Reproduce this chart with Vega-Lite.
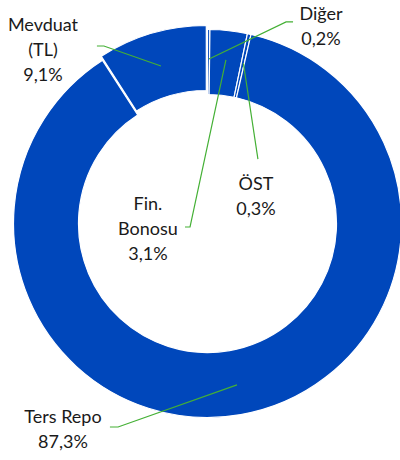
{
  "$schema": "https://vega.github.io/schema/vega-lite/v6.json",
  "width": 400,
  "height": 460,
  "autosize": "none",
  "padding": 0,
  "background": "white",
  "config": {"view": {"stroke": null}},
  "datasets": {
    "slices": [
      {"category": "Diğer", "value": 0.2, "order": 1},
      {"category": "Fin. Bonosu", "value": 3.1, "order": 2},
      {"category": "ÖST", "value": 0.3, "order": 3},
      {"category": "Ters Repo", "value": 87.3, "order": 4},
      {"category": "Mevduat (TL)", "value": 9.1, "order": 5}
    ],
    "labels": [
      {"text": "Mevduat\n(TL)\n9,1%", "lx": -0.848, "ly": 1.0155},
      {"text": "Diğer\n0,2%", "lx": 0.585, "ly": 1.0773},
      {"text": "ÖST\n0,3%", "lx": 0.25, "ly": 0.198},
      {"text": "Fin.\nBonosu\n3,1%", "lx": -0.307, "ly": 0.0928},
      {"text": "Ters Repo\n87,3%", "lx": -0.745, "ly": -1.005}
    ],
    "leaders": [
      {"id": "Mevduat", "seq": 1, "lx": -0.57, "ly": 0.915},
      {"id": "Mevduat", "seq": 2, "lx": -0.534, "ly": 0.915},
      {"id": "Mevduat", "seq": 3, "lx": -0.24, "ly": 0.812},
      {"id": "Diger", "seq": 1, "lx": 0.441, "ly": 1.039},
      {"id": "Diger", "seq": 2, "lx": 0.405, "ly": 1.039},
      {"id": "Diger", "seq": 3, "lx": 0.008, "ly": 0.848},
      {"id": "Fin", "seq": 1, "lx": -0.116, "ly": -0.018},
      {"id": "Fin", "seq": 2, "lx": -0.09, "ly": -0.018},
      {"id": "Fin", "seq": 3, "lx": 0.095, "ly": 0.843},
      {"id": "OST", "seq": 1, "lx": 0.185, "ly": 0.826},
      {"id": "OST", "seq": 2, "lx": 0.26, "ly": 0.332},
      {"id": "Repo", "seq": 1, "lx": -0.503, "ly": -1.049},
      {"id": "Repo", "seq": 2, "lx": -0.461, "ly": -1.049},
      {"id": "Repo", "seq": 3, "lx": 0.152, "ly": -0.832}
    ]
  },
  "layer": [
    {
      "data": {"name": "slices"},
      "transform": [
        {"stack": "value", "groupby": [], "sort": [{"field": "order"}], "as": ["t0", "t1"]},
        {"filter": "datum.category !== 'Mevduat (TL)'"}
      ],
      "mark": {"type": "arc", "outerRadius": 194, "innerRadius": 129, "fill": "#0047BB", "stroke": "white", "strokeWidth": 1.2},
      "encoding": {
        "x": {"datum": 0, "type": "quantitative", "scale": {"domain": [-1.0696, 0.9923], "nice": false, "zero": false}, "axis": null},
        "y": {"datum": 0, "type": "quantitative", "scale": {"domain": [-1.2191, 1.1521], "nice": false, "zero": false}, "axis": null},
        "theta": {"field": "t0", "type": "quantitative", "scale": {"domain": [0, 100]}},
        "theta2": {"field": "t1"}
      }
    },
    {
      "data": {"name": "slices"},
      "transform": [
        {"stack": "value", "groupby": [], "sort": [{"field": "order"}], "as": ["t0", "t1"]},
        {"filter": "datum.category === 'Mevduat (TL)'"}
      ],
      "mark": {"type": "arc", "outerRadius": 194, "innerRadius": 129, "fill": "#0047BB", "stroke": "white", "strokeWidth": 1.2, "xOffset": -1.2, "yOffset": -4},
      "encoding": {
        "x": {"datum": 0, "type": "quantitative", "scale": {"domain": [-1.0696, 0.9923], "nice": false, "zero": false}, "axis": null},
        "y": {"datum": 0, "type": "quantitative", "scale": {"domain": [-1.2191, 1.1521], "nice": false, "zero": false}, "axis": null},
        "theta": {"field": "t0", "type": "quantitative", "scale": {"domain": [0, 100]}},
        "theta2": {"field": "t1"}
      }
    },
    {
      "data": {"name": "leaders"},
      "mark": {"type": "line", "color": "#44B035", "strokeWidth": 1.2},
      "encoding": {
        "x": {"field": "lx", "type": "quantitative", "scale": {"domain": [-1.0696, 0.9923], "nice": false, "zero": false}, "axis": null},
        "y": {"field": "ly", "type": "quantitative", "scale": {"domain": [-1.2191, 1.1521], "nice": false, "zero": false}, "axis": null},
        "detail": {"field": "id"},
        "order": {"field": "seq"}
      }
    },
    {
      "data": {"name": "labels"},
      "mark": {"type": "text", "font": "Lato", "fontSize": 18, "lineHeight": 25, "lineBreak": "\n", "align": "center", "baseline": "middle", "color": "#1a1a1a"},
      "encoding": {
        "x": {"field": "lx", "type": "quantitative", "scale": {"domain": [-1.0696, 0.9923], "nice": false, "zero": false}, "axis": null},
        "y": {"field": "ly", "type": "quantitative", "scale": {"domain": [-1.2191, 1.1521], "nice": false, "zero": false}, "axis": null},
        "text": {"field": "text"}
      }
    }
  ]
}
